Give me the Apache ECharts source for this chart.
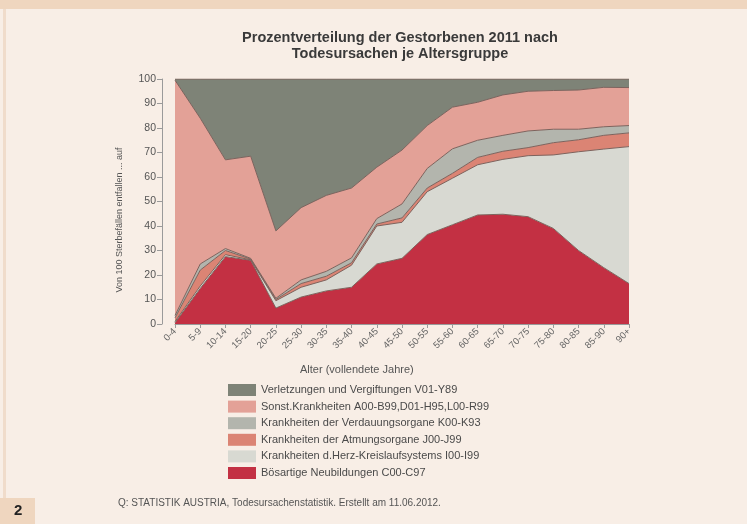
<!DOCTYPE html>
<html>
<head>
<meta charset="utf-8">
<script src="https://cdn.jsdelivr.net/npm/echarts@6/dist/echarts.min.js"></script>
<style>
  html, body { margin: 0; padding: 0; background: #f8eee6; }
  #chart { width: 747px; height: 524px; }
</style>
</head>
<body>
<div id="chart"></div>
<script>
// Altersgruppen
var ageGroups = ["0-4", "5-9", "10-14", "15-20", "20-25", "25-30", "30-35", "35-40", "40-45", "45-50",
  "50-55", "55-60", "60-65", "65-70", "70-75", "75-80", "80-85", "85-90", "90+"];

// Anteile je Todesursache (von unten nach oben gestapelt)
var boesartig = [0.5, 14.5, 27.5, 26, 6.5, 11, 13.5, 15, 24.5, 26.8, 36.5, 40.5, 44.5, 44.8, 43.8, 39, 30, 23, 16.5];
var herzKreislauf = [0.5, 1, 0.8, 0.2, 3, 4, 4.5, 9, 15.5, 14.7, 17.5, 19, 20.5, 22.4, 24.9, 30, 40.3, 48.4, 55.9];
var atmung = [1.5, 6.5, 1.7, 0.3, 0.5, 1.5, 1.5, 1, 0.8, 1.8, 1.5, 2, 3, 3.3, 3.3, 5, 4.9, 5.6, 5.6];
var verdauung = [1, 2.5, 0.8, 0.3, 0.5, 1.5, 2, 2, 2.2, 5.7, 8, 10, 7, 6.5, 6.8, 5.5, 4.3, 3.5, 3];
var sonstige = [96, 59.5, 36.2, 41.7, 27.5, 29.5, 31, 28.5, 21, 22, 17.5, 17, 15.5, 16.5, 16.2, 15.8, 16, 16.1, 15.5];
var verletzungen = [0.5, 16, 33, 31.5, 62, 52.5, 47.5, 44.5, 36, 29, 19, 11.5, 9.5, 6.5, 5, 4.7, 4.5, 3.4, 3.5];

var names = [
  "Bösartige Neubildungen C00-C97",
  "Krankheiten d.Herz-Kreislaufsystems I00-I99",
  "Krankheiten der Atmungsorgane J00-J99",
  "Krankheiten der Verdauungsorgane K00-K93",
  "Sonst.Krankheiten A00-B99,D01-H95,L00-R99",
  "Verletzungen und Vergiftungen V01-Y89"
];
var colors = ["#c33043", "#d8d9d2", "#db8474", "#b3b5ad", "#e3a197", "#7e8377"];
var values = [boesartig, herzKreislauf, atmung, verdauung, sonstige, verletzungen];

var font = "'Liberation Sans', Arial, sans-serif";

var chart = echarts.init(document.getElementById("chart"));

var series = values.map(function (v, i) {
  return {
    name: names[i],
    type: "line",
    stack: "total",
    data: v,
    symbol: "none",
    lineStyle: { color: "#7d635d", width: 1 },
    areaStyle: { color: colors[i], opacity: 1 },
    itemStyle: { color: colors[i] }
  };
});

chart.setOption({
  backgroundColor: "#f8eee6",
  animation: false,
  title: {
    text: "Prozentverteilung der Gestorbenen 2011 nach\nTodesursachen je Altersgruppe",
    left: 395,
    top: 25,
    textAlign: "center",
    textStyle: { fontFamily: font, fontSize: 14.5, fontWeight: "bold", color: "#3a3a3a", lineHeight: 16 }
  },
  grid: { left: 175, right: 118, top: 79, bottom: 200 },
  legend: {
    orient: "vertical",
    left: 223,
    top: 379,
    itemWidth: 28,
    itemHeight: 12,
    itemGap: 4.6,
    icon: "rect",
    data: names.slice().reverse(),
    textStyle: { fontFamily: font, fontSize: 11, color: "#4a4a4a" }
  },
  xAxis: {
    type: "category",
    boundaryGap: false,
    data: ageGroups,
    axisLine: { show: true, lineStyle: { color: "#9a9a9a" } },
    axisTick: { show: true, length: 4, lineStyle: { color: "#9a9a9a" } },
    axisLabel: { rotate: 45, fontSize: 9.5, color: "#666", fontFamily: font, margin: 6, interval: 0 }
  },
  yAxis: {
    type: "value",
    min: 0,
    max: 100,
    interval: 10,
    offset: 13,
    axisLine: { show: true, lineStyle: { color: "#9a9a9a" } },
    axisTick: { show: true, length: 5, lineStyle: { color: "#9a9a9a" } },
    axisLabel: { fontSize: 10.5, color: "#555", fontFamily: font, margin: 6 },
    splitLine: { show: false }
  },
  graphic: [
    { type: "rect", shape: { x: 0, y: 0, width: 747, height: 9 }, style: { fill: "#efd6bf" }, silent: true },
    { type: "rect", shape: { x: 3, y: 9, width: 3, height: 490 }, style: { fill: "#f0dccb" }, silent: true },
    { type: "rect", shape: { x: 0, y: 498, width: 35, height: 26 }, style: { fill: "#efd6bf" }, silent: true },
    { type: "text", left: 14, top: 503, style: { text: "2", font: "bold 15px " + font, fill: "#222" } },
    { type: "text", left: 300, top: 364, style: { text: "Alter (vollendete Jahre)", font: "11px " + font, fill: "#555" } },
    { type: "text", x: 120, y: 220, rotation: Math.PI / 2,
      style: { text: "Von 100 Sterbefällen entfallen ... auf", font: "9px " + font, fill: "#555", align: "center", verticalAlign: "middle" } },
    { type: "text", left: 118, top: 498, style: { text: "Q: STATISTIK AUSTRIA, Todesursachenstatistik. Erstellt am 11.06.2012.", font: "10px " + font, fill: "#555" } }
  ],
  series: series
});
</script>
</body>
</html>
